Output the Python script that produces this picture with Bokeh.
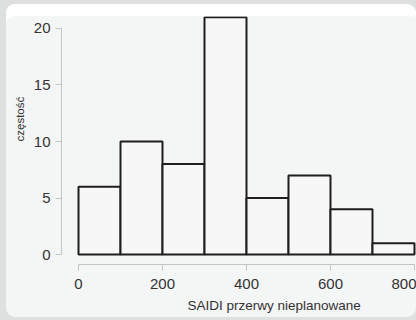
from bokeh.plotting import figure
from bokeh.models import Range1d, FixedTicker, Title
from bokeh.embed import file_html
from bokeh.resources import INLINE

# Histogram of unplanned SAIDI interruptions
bin_left = [0, 100, 200, 300, 400, 500, 600, 700]
bin_right = [100, 200, 300, 400, 500, 600, 700, 800]
counts = [6, 10, 8, 21, 5, 7, 4, 1]
x_ticks = [0, 200, 400, 600, 800]
y_ticks = [0, 5, 10, 15, 20]
x_title = "SAIDI przerwy nieplanowane"
y_title = "częstość"

PANEL = "#f4f5f5"
OUTER = "#dedfdf"
FONT = "Liberation Sans"
TEXT = "#333333"

p = figure(width=410, height=313, output_backend="svg", toolbar_location=None,
           x_range=Range1d(-40.5, 804.8), y_range=Range1d(-0.88, 21.06),
           min_border_left=55, min_border_right=0, min_border_top=12,
           min_border_bottom=52)
p.background_fill_color = PANEL
p.border_fill_color = None
p.outline_line_color = None
p.grid.visible = False

# rounded card with a white band on top, set on a grey page
p.styles = {
    "position": "relative", "left": "6px", "top": "4px",
    "background-color": PANEL, "border-radius": "9px",
    "box-shadow": f"inset 0 12px 0 0 #ffffff, 0 0 0 14px {OUTER}",
}

p.quad(left=bin_left, right=bin_right, bottom=0, top=counts,
       fill_color="#f7f7f7", line_color="#1e1e1e", line_width=2)

for ax, ticks, bounds in ((p.xaxis[0], x_ticks, (0, 800)), (p.yaxis[0], y_ticks, (0, 20))):
    ax.ticker = FixedTicker(ticks=ticks)
    ax.bounds = bounds
    ax.axis_line_color = "#c4c4c4"
    ax.major_tick_line_color = "#c4c4c4"
    ax.major_tick_out = 6
    ax.major_tick_in = 0
    ax.minor_tick_line_color = None
    ax.major_label_text_font = FONT
    ax.major_label_text_font_size = "15px"
    ax.major_label_text_color = TEXT
p.xaxis.major_label_standoff = 8
p.yaxis.major_label_standoff = 5

p.add_layout(Title(text=x_title, align="left", offset=126, standoff=9,
                   text_font=FONT, text_font_size="13.5px",
                   text_font_style="normal", text_color=TEXT), "below")
p.add_layout(Title(text=y_title, align="left", offset=123, standoff=9,
                   text_font=FONT, text_font_size="11.5px",
                   text_font_style="normal", text_color=TEXT), "left")

open("out.html", "w").write(file_html(p, INLINE))
